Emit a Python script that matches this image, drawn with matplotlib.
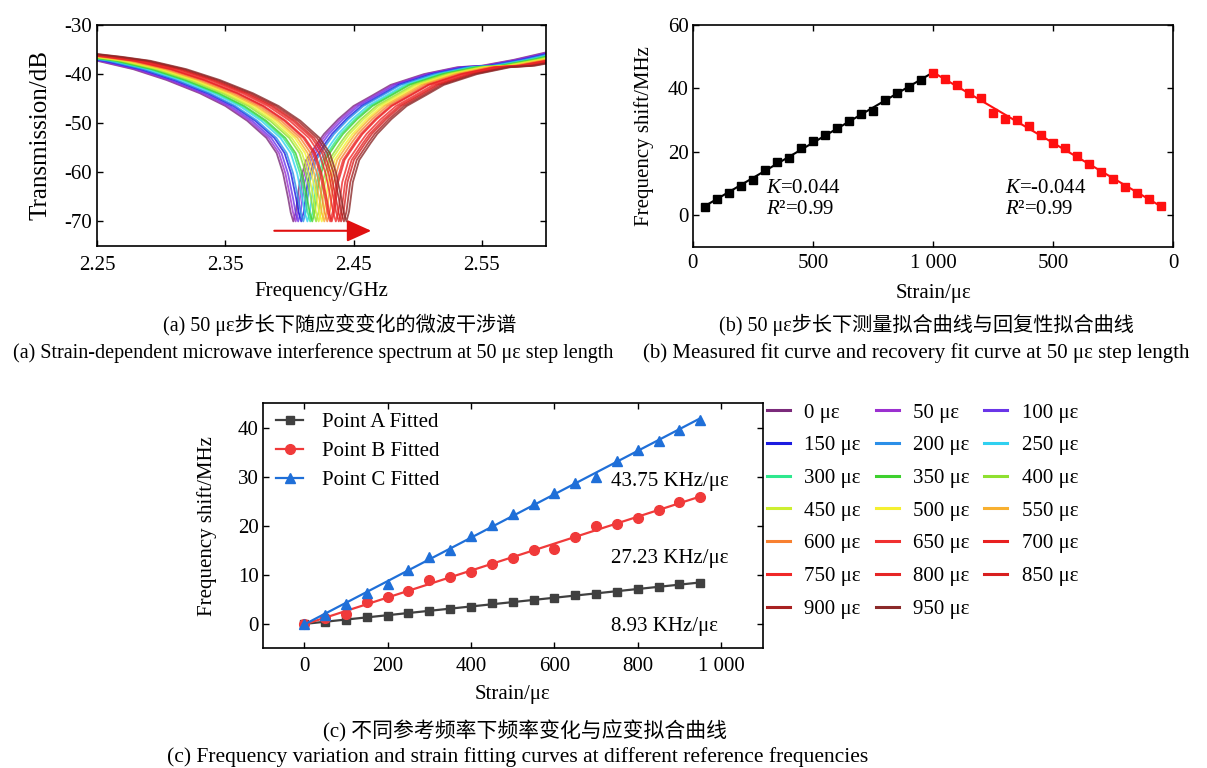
import numpy as np
import matplotlib.pyplot as plt
from matplotlib.lines import Line2D

plt.rcParams["font.family"] = ["Liberation Serif", "Noto Sans CJK SC"]
plt.rcParams["axes.unicode_minus"] = False
plt.rcParams["mathtext.fontset"] = "custom"
plt.rcParams["mathtext.rm"] = "Liberation Serif"
plt.rcParams["mathtext.it"] = "Liberation Serif:italic"
plt.rcParams["font.size"] = 15

# ---- (a) spectra: notch shape of the 0 ue curve, shifted to each dip ----
strain_levels = [0, 50, 100, 150, 200, 250, 300, 350, 400, 450,
                 500, 550, 600, 650, 700, 750, 800, 850, 900, 950]
dip_freq = [2.4030, 2.4048, 2.4068, 2.4092, 2.4108, 2.4140, 2.4162, 2.4178, 2.4208, 2.4228,
            2.4252, 2.4272, 2.4295, 2.4318, 2.4330, 2.4362, 2.4385, 2.4403, 2.4425, 2.4445]
curve_colors = ["#7b2a7b", "#9b30d0", "#6a35e8", "#1c1ce0", "#2b8fe8", "#30d0f0", "#2ee88e",
                "#3ed02e", "#8fe030", "#cdef30", "#f5f030", "#f8b030", "#f88030", "#f03030",
                "#e82020", "#f02828", "#e62626", "#d81f1f", "#a82222", "#8b2a2a"]
notch_offset_mhz = [-195, -175, -153, -125, -99, -73, -53, -36, -21, -13, -8, -4, -2, 0,
                    2, 5, 10, 19, 24, 35, 47, 62, 76, 102, 128, 147, 172, 197]
notch_db = [-35.9, -36.5, -37.3, -39.0, -41.2, -43.9, -46.5, -49.5, -53.0, -56.1, -60.2, -65.3, -68.2, -70.0,
            -68.0, -62.0, -57.5, -54.0, -52.2, -49.2, -46.5, -44.3, -42.2, -40.0, -38.6, -38.3, -37.1, -35.6]
arrow_start = (2.386, -71.9)
arrow_end = (2.466, -71.9)

# ---- (b) loading / recovery ----
load_strain = [50, 100, 150, 200, 250, 300, 350, 400, 450, 500,
               550, 600, 650, 700, 750, 800, 850, 900, 950]
load_shift = [2.6, 5.1, 7.1, 9.3, 10.9, 14.1, 16.6, 18.0, 21.1, 23.3,
              25.4, 27.5, 29.6, 32.0, 32.8, 36.3, 38.6, 40.3, 42.5]
unload_strain = [1000, 950, 900, 850, 800, 750, 700, 650, 600, 550,
                 500, 450, 400, 350, 300, 250, 200, 150, 100, 50]
unload_shift = [44.8, 42.9, 41.2, 38.6, 36.8, 32.3, 30.4, 29.9, 28.0, 25.2,
                22.8, 21.2, 18.5, 16.2, 13.5, 11.4, 8.7, 7.1, 5.0, 2.9]
b_ticks = [0, 500, 1000, 1500, 2000]
b_ticklabels = ["0", "500", "1 000", "500", "0"]

# ---- (c) three reference points ----
strain_c = [0, 50, 100, 150, 200, 250, 300, 350, 400, 450,
            500, 550, 600, 650, 700, 750, 800, 850, 900, 950]
shift_a = [0, 0.4, 0.8, 1.3, 1.6, 2.2, 2.7, 3.1, 3.5, 4.3,
           4.5, 4.9, 5.2, 5.8, 6.1, 6.5, 7.0, 7.6, 8.1, 8.4]
shift_b = [0, 1.2, 2.0, 4.4, 5.4, 6.7, 8.9, 9.5, 10.6, 12.2,
           13.4, 15.0, 15.3, 17.8, 20.0, 20.4, 21.6, 23.2, 24.9, 25.9]
shift_c = [0, 1.8, 4.1, 6.3, 8.2, 11.0, 13.6, 15.0, 18.0, 20.1,
           22.4, 24.5, 26.7, 28.8, 29.9, 33.3, 35.5, 37.4, 39.6, 41.6]
c_labels = ["Point A Fitted", "Point B Fitted", "Point C Fitted"]
c_slopes = ["8.93 KHz/με", "27.23 KHz/με", "43.75 KHz/με"]


def frame(ax, xpad, ypad):
    ax.tick_params(direction="in", top=True, right=True, length=4, width=1, labelsize=15)
    ax.tick_params(axis="x", pad=xpad)
    ax.tick_params(axis="y", pad=ypad)
    for s in ax.spines.values():
        s.set_linewidth(1.2)


fig = plt.figure(figsize=(12.07, 7.68), dpi=100)
ax_a = fig.add_axes([0.0806, 0.6797, 0.3715, 0.2878])
ax_b = fig.add_axes([0.5739, 0.6788, 0.3982, 0.2887])
ax_c = fig.add_axes([0.2176, 0.1559, 0.4143, 0.3190])

# (a)
offsets = np.array(notch_offset_mhz) / 1000
for f0, col in zip(dip_freq, curve_colors):
    ax_a.plot(f0 + offsets, notch_db, color=col, lw=1.3, alpha=0.8)
ax_a.annotate("", xy=arrow_end, xytext=arrow_start,
              arrowprops=dict(arrowstyle="-|>,head_length=1.0,head_width=0.45", color="#e01010", lw=1.5))
ax_a.set_xlim(2.25, 2.60)
ax_a.set_ylim(-75, -30)
ax_a.set_xticks([2.25, 2.35, 2.45, 2.55])
ax_a.set_yticks([-30, -40, -50, -60, -70])
frame(ax_a, 7, 4)
ax_a.set_xlabel("Frequency/GHz", fontsize=15, labelpad=5)
ax_a.set_ylabel("Transmission/dB", fontsize=18, labelpad=9)

# (b)
ax_b.plot(load_strain, load_shift, "s", color="black", ms=5.5)
k1, b1 = np.polyfit(load_strain, load_shift, 1)
xl = np.array([load_strain[0], unload_strain[0]])
ax_b.plot(xl, k1 * xl + b1, color="black", lw=1.5)
unload_x = 2000 - np.array(unload_strain)
ax_b.plot(unload_x, unload_shift, "s", color="#ff1010", ms=5.5)
k2, b2 = np.polyfit(unload_x, unload_shift, 1)
xr = np.array([unload_x[0], unload_x[-1]])
ax_b.plot(xr, k2 * xr + b2, color="#ff1010", lw=1.5)
ax_b.set_xlim(0, 2000)
ax_b.set_ylim(-10, 60)
ax_b.set_xticks(b_ticks, b_ticklabels)
ax_b.set_yticks([0, 20, 40, 60])
frame(ax_b, 5, 3)
ax_b.text(307, 8.5, "$K$=0.044", fontsize=15, va="center")
ax_b.text(307, 1.6, "$R$²=0.99", fontsize=15, va="center")
ax_b.text(1298, 8.5, "$K$=-0.044", fontsize=15, va="center")
ax_b.text(1298, 1.6, "$R$²=0.99", fontsize=15, va="center")
ax_b.set_xlabel("Strain/με", fontsize=15, labelpad=8)
ax_b.set_ylabel("Frequency shift/MHz", fontsize=15, labelpad=10)

# (c)
styles = [("s", "#404040", 6), ("o", "#f03a3a", 7), ("^", "#1f6fd8", 6.5)]
xs = np.array(strain_c)
for ys, (mk, col, ms), lab in zip([shift_a, shift_b, shift_c], styles, c_labels):
    k, b = np.polyfit(xs, ys, 1)
    ax_c.plot(xs, ys, mk, color=col, ms=ms)
    ax_c.plot(xs[[0, -1]], k * xs[[0, -1]] + b, color=col, lw=1.6)
    ax_c.plot([], [], marker=mk, color=col, ms=ms, lw=1.6, label=lab)
ax_c.text(735, 29.1, c_slopes[2], fontsize=15, va="center")
ax_c.text(735, 13.4, c_slopes[1], fontsize=15, va="center")
ax_c.text(735, -0.5, c_slopes[0], fontsize=15, va="center")
ax_c.set_xlim(-100, 1100)
ax_c.set_ylim(-5, 45)
ax_c.set_xticks([0, 200, 400, 600, 800, 1000], ["0", "200", "400", "600", "800", "1 000"])
ax_c.set_yticks([0, 10, 20, 30, 40])
frame(ax_c, 6, 3)
ax_c.set_xlabel("Strain/με", fontsize=15, labelpad=7)
ax_c.set_ylabel("Frequency shift/MHz", fontsize=15, labelpad=15)
ax_c.legend(loc="upper left", bbox_to_anchor=(0.027, 0.962), borderaxespad=0, borderpad=0,
            frameon=False, fontsize=15, handlelength=1.3, handletextpad=0.9, labelspacing=0.45)

# legend of the spectra, laid out row by row in three columns
handles = [Line2D([], [], color=c, lw=2.2) for c in curve_colors]
labels = [f"{s} με" for s in strain_levels]
order = list(range(0, 20, 3)) + list(range(1, 20, 3)) + list(range(2, 20, 3))
fig.legend([handles[i] for i in order], [labels[i] for i in order],
           loc="upper left", bbox_to_anchor=(767 / 1207, 1 - 403 / 768), bbox_transform=fig.transFigure,
           ncol=3, frameon=False, fontsize=15, borderaxespad=0, borderpad=0,
           handlelength=1.1, handletextpad=0.7, columnspacing=0.7, labelspacing=0.63)

# captions
fig.text(340 / 1207, 1 - 325 / 768, "(a) 50 με步长下随应变变化的微波干涉谱", ha="center", va="center", fontsize=14.5)
fig.text(313 / 1207, 1 - 353 / 768, "(a) Strain-dependent microwave interference spectrum at 50 με step length",
         ha="center", va="center", fontsize=14.5)
fig.text(926 / 1207, 1 - 325 / 768, "(b) 50 με步长下测量拟合曲线与回复性拟合曲线", ha="center", va="center", fontsize=14.5)
fig.text(916 / 1207, 1 - 353 / 768, "(b) Measured fit curve and recovery fit curve at 50 με step length",
         ha="center", va="center", fontsize=15)
fig.text(525 / 1207, 1 - 731 / 768, "(c) 不同参考频率下频率变化与应变拟合曲线", ha="center", va="center", fontsize=15)
fig.text(518 / 1207, 1 - 757 / 768, "(c) Frequency variation and strain fitting curves at different reference frequencies",
         ha="center", va="center", fontsize=15.5)

fig.savefig("out.png", dpi=100)
